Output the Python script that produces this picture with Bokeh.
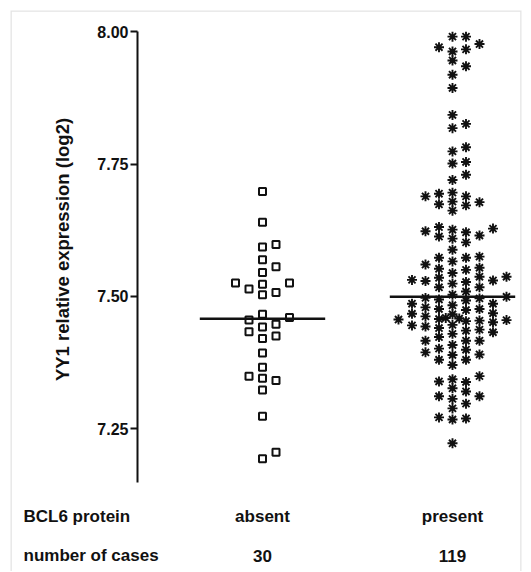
import numpy as np
from bokeh.plotting import figure
from bokeh.models import FixedTicker, NumeralTickFormatter, BoxAnnotation
from bokeh.embed import file_html
from bokeh.resources import INLINE
from bokeh.core.properties import value

# ---------------- data ----------------
categories = ["absent", "present"]
case_counts = ["30", "119"]
row_header_group = "BCL6 protein"
row_header_count = "number of cases"

absent_values = [
    7.698, 7.640, 7.598, 7.593, 7.569, 7.556, 7.545, 7.525, 7.523, 7.525,
    7.507, 7.503, 7.514, 7.460, 7.466, 7.455, 7.447, 7.442, 7.433, 7.425,
    7.420, 7.393, 7.366, 7.345, 7.341, 7.349, 7.323, 7.273, 7.193, 7.205,
]

present_values = [
    7.991, 7.991, 7.977, 7.971, 7.967, 7.963, 7.946, 7.935, 7.919, 7.894,
    7.843, 7.826, 7.818,
    7.782, 7.774, 7.754, 7.751, 7.730, 7.720,
    7.696, 7.689, 7.694, 7.679, 7.674, 7.689, 7.672, 7.678, 7.662,
    7.631, 7.628, 7.626, 7.623, 7.621, 7.615, 7.613, 7.609, 7.602,
    7.588,
    7.575, 7.573, 7.573, 7.566, 7.560,
    7.554, 7.552, 7.550, 7.544, 7.537, 7.537, 7.535,
    7.531, 7.530, 7.529, 7.527, 7.524, 7.517, 7.517,
    7.509, 7.503, 7.499, 7.497, 7.496, 7.494, 7.492,
    7.486, 7.486, 7.483, 7.479, 7.476, 7.476, 7.474,
    7.468, 7.467, 7.466, 7.462,
    7.459, 7.458, 7.457, 7.456, 7.455, 7.454, 7.453, 7.451,
    7.446, 7.445, 7.443, 7.440,
    7.437, 7.435, 7.432, 7.429,
    7.423, 7.416, 7.416, 7.416, 7.408,
    7.401, 7.399,
    7.394, 7.390, 7.389, 7.380, 7.380, 7.370,
    7.349, 7.343, 7.339, 7.338, 7.326,
    7.320, 7.311, 7.311, 7.306, 7.297,
    7.288,
    7.271, 7.269, 7.267,
    7.222,
]

y_ticks = [7.25, 7.50, 7.75, 8.00]
y_tick_labels = ["7.25", "7.50", "7.75", "8.00"]
y_axis_label = "YY1 relative expression (log2)"

# ---------------- layout geometry (canvas pixels) ----------------
W, H = 530, 571
FL, FT, FR = 10, 10, 521   # grey frame: left, top, right
PX_X = 190.0               # px per category step
PX_Y = 528.8               # px per log2 unit
x_start = 1 - (262 - FL) / PX_X
x_end = x_start + (FR - FL) / PX_X
y_end = 8.0 + (31.4 - FT) / PX_Y
y_start = y_end - (H - FT) / PX_Y


def y_at(py):
    return y_end - (py - FT) / PX_Y


def x_at(px):
    return x_start + (px - FL) / PX_X


SLOT = 13.5 / PX_X         # horizontal spacing of symbols


def swarm_slots(vals, gap, max_slot=4):
    """Column-scatter layout: each point (low to high) takes the most central
    free column; when all columns up to max_slot are taken it drops into a
    half-column between them."""
    vals = np.asarray(vals, dtype=float)
    order = np.argsort(vals, kind="stable")
    whole = [0] + [s for k in range(1, max_slot + 1) for s in (k, -k)]
    half = [s for k in range(max_slot) for s in (k + 0.5, -(k + 0.5))]
    used = {}
    slots = np.zeros(len(vals))
    for i in order:
        v = vals[i]
        choice = None
        for s in whole + half:
            if all(abs(v - u) >= gap for u in used.get(s, [])):
                choice = s
                break
        if choice is None:
            choice = min(whole + half,
                         key=lambda s: (sum(abs(v - u) < gap for u in used.get(s, [])), abs(s)))
        used.setdefault(choice, []).append(v)
        slots[i] = choice
    return slots


p = figure(width=W, height=H, output_backend="svg", toolbar_location=None,
           x_range=(x_start, x_end), y_range=(y_start, y_end),
           x_axis_location=None, min_border_left=FL, min_border_right=W - FR,
           min_border_top=FT, min_border_bottom=0)
p.outline_line_color = None
p.grid.visible = False
p.background_fill_color = "white"
p.border_fill_color = "white"

FONT = "Liberation Sans"
INK = "#111111"

# grey frame (left, top, right edges; open at the bottom)
p.add_layout(BoxAnnotation(left=x_start, right=x_end, top=y_end,
                           bottom=y_start - 1.0, fill_alpha=0,
                           line_color="#a6a6a6", line_width=2.6))

# points
ax = 1 + swarm_slots(absent_values, 0.0185) * SLOT
px = 2 + swarm_slots(present_values, 0.0165) * SLOT
p.scatter(ax, absent_values, marker="square", size=7, line_width=2,
          line_color=INK, fill_color="white")
p.scatter(px, present_values, marker="asterisk", size=10, line_width=1.9,
          line_color=INK)

# medians
for i, vals in enumerate([absent_values, present_values]):
    m = float(np.median(vals))
    p.segment(x0=[i + 1 - 0.33], x1=[i + 1 + 0.33], y0=[m], y1=[m],
              line_width=2.5, line_color=INK)

# y axis, drawn inside the frame at a fixed location
ya = p.yaxis[0]
ya.fixed_location = x_at(137)
ya.ticker = FixedTicker(ticks=y_ticks)
ya.formatter = NumeralTickFormatter(format="0.00")
ya.major_label_overrides = dict(zip(y_ticks, y_tick_labels))
ya.bounds = (7.147, 8.0)
ya.axis_line_width = 2
ya.axis_line_color = INK
ya.major_tick_line_width = 2
ya.major_tick_line_color = INK
ya.major_tick_out = 7
ya.major_tick_in = 0
ya.minor_tick_out = 0
ya.minor_tick_in = 0
ya.major_label_standoff = 2
ya.major_label_text_font = FONT
ya.major_label_text_font_style = "bold"
ya.major_label_text_font_size = "16px"
ya.major_label_text_color = INK

# y-axis title
p.text(x=[x_at(62)], y=[y_at(249)], text=[y_axis_label], angle=np.pi / 2,
       text_align="center", text_baseline="middle", text_font=value(FONT),
       text_font_style="bold", text_font_size="18.5px", text_color=INK)

# bottom table
row1 = y_at(516.4)
row2 = y_at(555.0)
for txt, yy in [(categories, row1), (case_counts, row2)]:
    p.text(x=[1, 2], y=[yy, yy], text=txt, text_align="center",
           text_baseline="middle", text_font=value(FONT),
           text_font_style="bold", text_font_size="17px", text_color=INK)

p.text(x=[x_at(23)] * 2, y=[row1, row2], text=[row_header_group, row_header_count],
       text_align="left", text_baseline="middle", text_font=value(FONT),
       text_font_style="bold", text_font_size="17px", text_color=INK)

open("out.html", "w").write(file_html(p, INLINE))
